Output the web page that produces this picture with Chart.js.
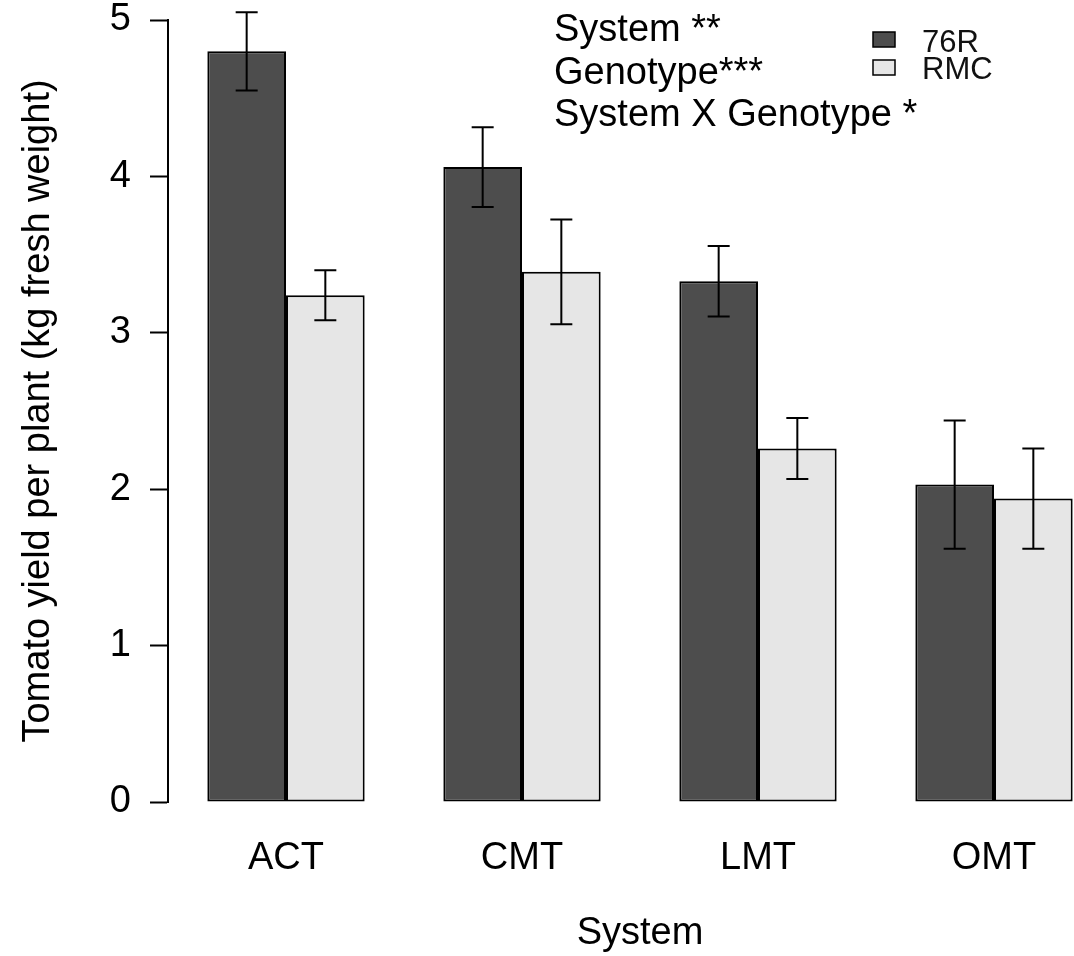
<!DOCTYPE html>
<html>
<head>
<meta charset="utf-8">
<script src="https://cdn.jsdelivr.net/npm/chart.js@4"></script>
<style>
  html, body { margin: 0; padding: 0; background: #fff; overflow: hidden; }
  #wrap { width: 1074px; height: 956px; overflow: hidden; }
</style>
</head>
<body>
<!-- the plot region runs a little past the right edge, like the cropped original -->
<div id="wrap"><canvas id="yieldChart" width="1112" height="956"></canvas></div>
<script>
// data
var systems = ["ACT", "CMT", "LMT", "OMT"];
var genotypes = ["76R", "RMC"];
var yield76R = [4.80, 4.06, 3.33, 2.03];
var yieldRMC = [3.24, 3.39, 2.26, 1.94];
var se76R = [0.25, 0.255, 0.225, 0.41];
var seRMC = [0.16, 0.335, 0.195, 0.32];
var yTicks = [0, 1, 2, 3, 4, 5];
var notes = ["System **", "Genotype***", "System X Genotype *"];

var FONT = "'Liberation Sans', Arial, sans-serif";
var colors = ["#4d4d4d", "#e6e6e6"];

// error bars on top of the bars
var errorBars = {
  id: "errorBars",
  afterDatasetsDraw: function (chart) {
    var ctx = chart.ctx;
    var y = chart.scales.y;
    ctx.save();
    ctx.strokeStyle = "#000";
    ctx.lineWidth = 2;
    chart.data.datasets.forEach(function (ds, di) {
      var meta = chart.getDatasetMeta(di);
      meta.data.forEach(function (bar, i) {
        var v = ds.data[i], e = ds.se[i];
        var top = y.getPixelForValue(v + e);
        var bot = y.getPixelForValue(v - e);
        ctx.beginPath();
        ctx.moveTo(bar.x, top); ctx.lineTo(bar.x, bot);
        ctx.moveTo(bar.x - 11, top); ctx.lineTo(bar.x + 11, top);
        ctx.moveTo(bar.x - 11, bot); ctx.lineTo(bar.x + 11, bot);
        ctx.stroke();
      });
    });
    ctx.restore();
  }
};

// significance notes and the small legend in the top right
var notesAndLegend = {
  id: "notesAndLegend",
  afterDraw: function (chart) {
    var ctx = chart.ctx;
    ctx.save();
    ctx.fillStyle = "#000";
    ctx.textAlign = "left";
    ctx.textBaseline = "alphabetic";
    ctx.font = "38px " + FONT;
    notes.forEach(function (t, i) {
      ctx.fillText(t, 554, 41 + i * 42.5);
    });

    ctx.font = "31px " + FONT;
    ctx.lineWidth = 1.5;
    chart.data.datasets.forEach(function (ds, i) {
      var by = 32 + i * 28;
      ctx.fillStyle = ds.backgroundColor;
      ctx.fillRect(873, by, 22, 15);
      ctx.strokeStyle = "#000";
      ctx.strokeRect(873, by, 22, 15);
      ctx.fillStyle = "#111";
      ctx.fillText(ds.label, 922, 52 + i * 26.5);
    });
    ctx.restore();
  }
};

new Chart(document.getElementById("yieldChart"), {
  type: "bar",
  data: {
    labels: systems,
    datasets: [
      { label: genotypes[0], data: yield76R, se: se76R, backgroundColor: colors[0], borderColor: "#000", borderWidth: 2, borderSkipped: false },
      { label: genotypes[1], data: yieldRMC, se: seRMC, backgroundColor: colors[1], borderColor: "#000", borderWidth: 2, borderSkipped: false }
    ]
  },
  options: {
    responsive: false,
    animation: false,
    categoryPercentage: 2 / 3,
    barPercentage: 1,
    layout: { padding: { top: 20, right: 0, left: 0, bottom: 0 } },
    plugins: {
      legend: { display: false },
      tooltip: { enabled: false }
    },
    scales: {
      x: {
        grid: { display: false },
        border: { display: false },
        ticks: { color: "#000", padding: 30, font: { family: FONT, size: 38, lineHeight: 1 } },
        title: { display: true, text: "System", color: "#000", padding: { top: 0, bottom: 0 }, font: { family: FONT, size: 38 } },
        afterFit: function (scale) { scale.height = 154; }
      },
      y: {
        min: 0,
        max: 5,
        afterBuildTicks: function (scale) {
          scale.ticks = yTicks.map(function (v) { return { value: v }; });
        },
        grid: { drawOnChartArea: false, drawTicks: true, tickLength: 18, tickColor: "#000", tickWidth: 2 },
        border: { display: true, color: "#000", width: 2 },
        ticks: { color: "#000", padding: 19, font: { family: FONT, size: 38, lineHeight: 0 } },
        title: { display: true, text: "Tomato yield per plant (kg fresh weight)", color: "#000", padding: { top: 16, bottom: 0 }, font: { family: FONT, size: 38 } },
        afterFit: function (scale) { scale.width = 168; }
      }
    }
  },
  plugins: [errorBars, notesAndLegend]
});
</script>
</body>
</html>
